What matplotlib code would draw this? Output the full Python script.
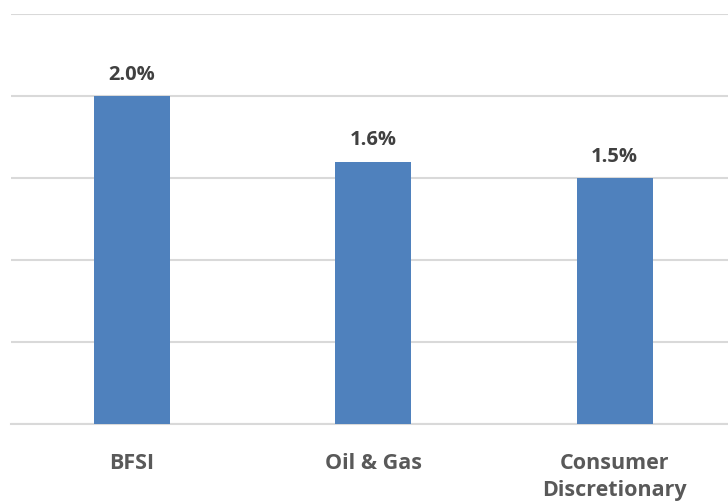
import matplotlib.pyplot as plt

sectors = ["BFSI", "Oil & Gas", "Consumer\nDiscretionary"]
weights = [2.0, 1.6, 1.5]
y_ticks = [0.0, 0.5, 1.0, 1.5, 2.0, 2.5]

plt.rcParams["font.family"] = ["Open Sans", "DejaVu Sans"]

fig = plt.figure(figsize=(7.28, 5.03), dpi=100)
# plot area runs slightly past the right edge of the canvas
ax = fig.add_axes([11 / 728, 1 - 424 / 503, 724.5 / 728, 410 / 503])

positions = range(len(sectors))
bars = ax.bar(positions, weights, width=0.315, color="#4F81BD", zorder=3)

for bar, value in zip(bars, weights):
    ax.text(bar.get_x() + bar.get_width() / 2, value + 0.07, f"{value:.1f}%",
            ha="center", va="bottom", fontsize=14.5, fontweight="bold",
            color="#404040")

ax.set_xlim(-0.5, len(sectors) - 0.5)
ax.set_ylim(0, 2.5)
ax.set_yticks(y_ticks)
ax.set_yticklabels([])
ax.tick_params(axis="y", length=0)
ax.set_xticks(list(positions))
ax.set_xticklabels(sectors, fontsize=15.5, fontweight="bold", color="#595959",
                   linespacing=1.38, va="top")
ax.tick_params(axis="x", length=0, pad=21)
ax.grid(axis="y", color="#D9D9D9", linewidth=1.5, zorder=0)
for side in ["top", "right", "left"]:
    ax.spines[side].set_visible(False)
ax.spines["bottom"].set_color("#D9D9D9")
ax.spines["bottom"].set_linewidth(1.5)

fig.savefig("out.png", dpi=100)
